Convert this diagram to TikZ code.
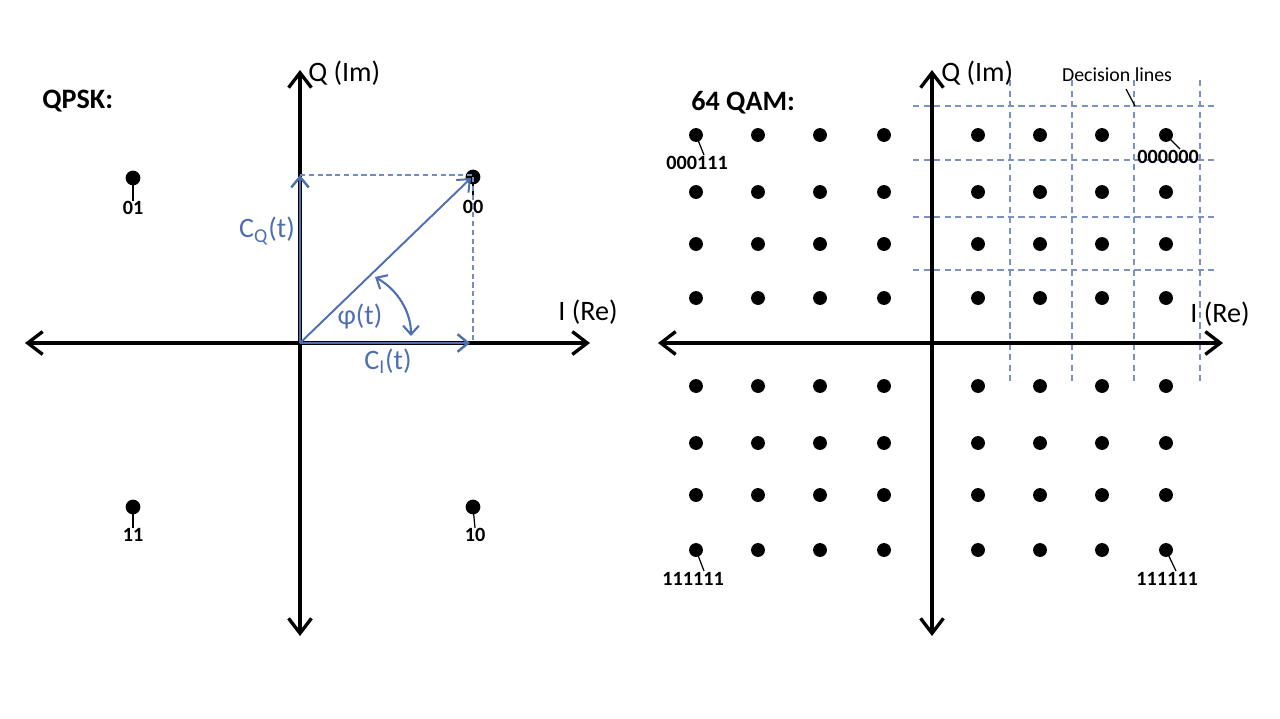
\documentclass[tikz,border=0pt]{standalone}
\usepackage{fontspec}
\setmainfont{Carlito}
\usetikzlibrary{arrows.meta}
\definecolor{vec}{RGB}{79,110,180}
\definecolor{dec}{RGB}{125,145,195}
\begin{document}
\begin{tikzpicture}[x=0.02cm,y=-0.02cm,
  axis/.style={line width=1.9pt,{Straight Barb[length=8.5pt,width=13pt]}-{Straight Barb[length=8.5pt,width=13pt]}},
  vecarrow/.style={vec,line width=1.4pt,-{Straight Barb[length=6pt,width=10pt]}},
  guide/.style={vec!80,line width=0.6pt,dash pattern=on 3pt off 2pt},
  decline/.style={dec,line width=0.6pt,dash pattern=on 3.5pt off 2.5pt},
  dot/.style={circle,fill=black,inner sep=0pt,minimum size=8.4pt},
  qdot/.style={circle,fill=black,inner sep=0pt,minimum size=7.9pt},
  axlabel/.style={font=\fontsize{16}{19}\selectfont,inner sep=0pt},
  title/.style={font=\bfseries\fontsize{16}{19}\selectfont,inner sep=0pt},
  bin/.style={font=\bfseries\fontsize{11.5}{13}\selectfont,inner sep=0pt},
  veclabel/.style={font=\fontsize{16}{19}\selectfont,text=vec,inner sep=0pt},
  leader/.style={line width=0.7pt}]
\useasboundingbox (0,0) rectangle (1280,718);

% ---------------- QPSK ----------------
\coordinate (LO) at (300,343);
\coordinate (LW) at (25,343);
\coordinate (LE) at (590,343);
\coordinate (LN) at (300,70);
\coordinate (LS) at (300,636);
\draw[axis] (LW) -- (LE);
\draw[axis] (LS) -- (LN);
\node[axlabel,anchor=west] (lq) at (308,73) {Q (Im)};
\node[axlabel] (li) at (588,312) {I (Re)};
\node[title,anchor=west] (qpsk) at (42,101) {QPSK:};

\node[dot] (d01) at (133,178) {};
\node[dot] (d00) at (473,177) {};
\node[dot] (d11) at (133,507) {};
\node[dot] (d10) at (473,507) {};
\node[bin] (l01) at (133,208) {01};
\node[bin] (l00) at (473,207) {00};
\node[bin] (l11) at (133,535) {11};
\node[bin] (l10) at (475,535) {10};
\draw[leader] (d01.center) -- (l01.north);
\draw[leader] (d00.center) -- (l00.north);
\draw[leader] (d11.center) -- (l11.north);
\draw[leader] (d10.center) -- (l10.north);

\coordinate (cq) at (300,175);
\coordinate (ci) at (470,343);
\coordinate (cd) at (471,178);
\coordinate (gc) at (473,175);
\coordinate (cx) at (473,343);
\draw[guide] (cq) -- (gc);
\draw[guide] (d00.center) -- (cx);
\draw[vecarrow] (LO) -- (cq);
\draw[vecarrow] (LO) -- (ci);
\draw[vecarrow,line width=1.1pt] (LO) -- (cd);
\coordinate (arcA) at (375,277);
\coordinate (arcB) at (411,336);
\draw[vec,line width=1.2pt,{Straight Barb[length=5pt,width=9pt]}-{Straight Barb[length=5pt,width=9pt]}]
  (arcA) .. controls (398,290) and (411,312) .. (arcB);
\node[veclabel] (lcq) at (267,231) {C\textsubscript{Q}(t)};
\node[veclabel] (lphi) at (360,316) {φ(t)};
\node[veclabel] (lci) at (388,361) {C\textsubscript{I}(t)};

% ---------------- 64 QAM ----------------
\coordinate (RO) at (932,343);
\coordinate (RW) at (658,343);
\coordinate (RE) at (1223,343);
\coordinate (RN) at (932,70);
\coordinate (RS) at (932,636);

% decision lines
\foreach \y [count=\k] in {106,160,217,270} {
  \coordinate (hA\k) at (913,\y);
  \coordinate (hB\k) at (1214,\y);
  \draw[decline] (hA\k) -- (hB\k);
}
\foreach \x [count=\k] in {1010,1072,1134,1200} {
  \coordinate (vA\k) at (\x,80);
  \coordinate (vB\k) at (\x,383);
  \draw[decline] (vA\k) -- (vB\k);
}

\draw[axis] (RW) -- (RE);
\draw[axis] (RS) -- (RN);
\node[axlabel,anchor=west] (rq) at (941,73) {Q (Im)};
\node[axlabel] (ri) at (1220,314) {I (Re)};
\node[title,anchor=west] (qam) at (691,103) {64 QAM:};
\node[font=\fontsize{11.3}{13}\selectfont,inner sep=0pt] (ldec) at (1117,75) {Decision lines};
\coordinate (decpt) at (1135,106);
\draw[leader] (1126,89) -- (decpt);

\foreach \x [count=\i] in {696,758,820,884,978,1040,1102,1166} {
  \foreach \y [count=\j] in {135,192,244,298,386,443,495,550} {
    \node[qdot] (q-\i-\j) at (\x,\y) {};
  }
}
\node[bin] (lA) at (697,163) {000111};
\node[bin] (lB) at (1168,157) {000000};
\node[bin] (lC) at (693,579) {111111};
\node[bin] (lD) at (1167,579) {111111};
\draw[leader] (q-1-1.center) -- (704,155);
\draw[leader] (q-8-1.center) -- (1180,149);
\draw[leader] (q-1-8.center) -- (704,571);
\draw[leader] (q-8-8.center) -- (1176,571);
\end{tikzpicture}
\end{document}
